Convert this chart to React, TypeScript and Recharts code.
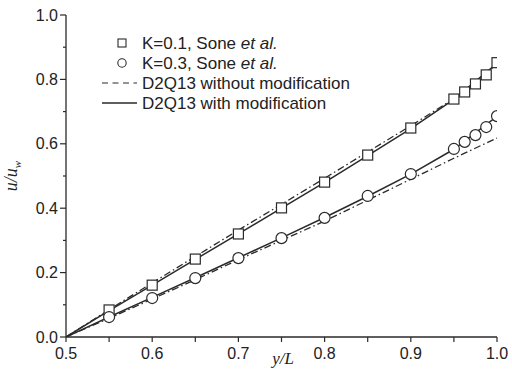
import React from "react";
import { LineChart, Line, XAxis, YAxis } from "recharts";

// ---- data ----
const xTicks = [0.5, 0.55, 0.6, 0.65, 0.7, 0.75, 0.8, 0.85, 0.9, 0.95, 1.0];
const xMajor = [0.5, 0.6, 0.7, 0.8, 0.9, 1.0];
const yTicks = [0, 0.1, 0.2, 0.3, 0.4, 0.5, 0.6, 0.7, 0.8, 0.9, 1.0];
const yMajor = [0, 0.2, 0.4, 0.6, 0.8, 1.0];

const soneK01X = [0.55, 0.6, 0.65, 0.7, 0.75, 0.8, 0.85, 0.9, 0.95, 0.9625, 0.975, 0.9875, 1.0];
const soneK01Y = [0.084, 0.161, 0.242, 0.32, 0.401, 0.481, 0.565, 0.649, 0.739, 0.761, 0.786, 0.814, 0.852];
const soneK03X = [0.55, 0.6, 0.65, 0.7, 0.75, 0.8, 0.85, 0.9, 0.95, 0.9625, 0.975, 0.9875, 1.0];
const soneK03Y = [0.062, 0.121, 0.183, 0.245, 0.307, 0.37, 0.438, 0.506, 0.584, 0.606, 0.627, 0.652, 0.686];

const lineX = [0.5, 0.55, 0.6, 0.65, 0.7, 0.75, 0.8, 0.85, 0.9, 0.95, 1.0];
const withModK01 = [0, 0.082, 0.161, 0.241, 0.32, 0.4, 0.48, 0.563, 0.647, 0.738, 0.85];
const withModK03 = [0, 0.062, 0.123, 0.184, 0.246, 0.308, 0.371, 0.437, 0.506, 0.583, 0.685];
const withoutModK01 = [0, 0.085, 0.168, 0.25, 0.332, 0.412, 0.493, 0.575, 0.656, 0.74, 0.846];
const withoutModK03 = [0, 0.058, 0.118, 0.178, 0.24, 0.3, 0.36, 0.425, 0.49, 0.555, 0.618];

const legendLabels = [
  "K=0.1, Sone ",
  "K=0.3, Sone ",
  "D2Q13 without modification",
  "D2Q13 with modification",
];

const zip = (xs: number[], ys: number[]) => xs.map((x, i) => ({ x, y: ys[i] }));

const AX = "#2a2a2a";
const TXT = "#222";
const SANS = "'Liberation Sans', Arial, sans-serif";
const SERIF = "'Liberation Serif', 'Times New Roman', serif";
const DASH = "7 3 1.5 3";

const isMajor = (v: number, list: number[]) => list.some((m) => Math.abs(m - v) < 1e-6);

const BottomTick = (props: any) => {
  const { x, y, payload } = props;
  const v = payload.value;
  return (
    <g>
      <line x1={x} y1={y} x2={x} y2={y + 5} stroke={AX} strokeWidth={1.2} />
      {isMajor(v, xMajor) && (
        <text x={x} y={y + 22} textAnchor="middle" fontSize={16} fontFamily={SANS} fill={TXT}>
          {v.toFixed(1)}
        </text>
      )}
    </g>
  );
};

const LeftTick = (props: any) => {
  const { x, y, payload } = props;
  const v = payload.value;
  const major = isMajor(v, yMajor);
  return (
    <g>
      <line x1={x} y1={y} x2={x - (major ? 6 : 3)} y2={y} stroke={AX} strokeWidth={1.2} />
      {major && (
        <text x={x - 8} y={y + 5.5} textAnchor="end" fontSize={16} fontFamily={SANS} fill={TXT}>
          {v.toFixed(1)}
        </text>
      )}
    </g>
  );
};

const SquareDot = (props: any) => {
  const { cx, cy } = props;
  if (cx == null || cy == null) return null;
  return <rect x={cx - 5} y={cy - 5} width={10} height={10} fill="#fff" stroke={AX} strokeWidth={1.2} />;
};

const CircleDot = (props: any) => {
  const { cx, cy } = props;
  if (cx == null || cy == null) return null;
  return <circle cx={cx} cy={cy} r={5.5} fill="#fff" stroke={AX} strokeWidth={1.2} />;
};

export default function App() {
  return (
    <div style={{ position: "absolute", left: 0, top: 0, width: 512, height: 372, background: "#fff" }}>
      <LineChart width={512} height={372} margin={{ top: 15, right: 15, bottom: 0, left: 0 }}>
        <XAxis
          xAxisId="b"
          dataKey="x"
          type="number"
          domain={[0.5, 1]}
          ticks={xTicks}
          interval={0}
          height={35}
          tickSize={0}
          tickMargin={0}
          tickLine={false}
          tick={<BottomTick />}
          stroke={AX}
          strokeWidth={1.3}
          allowDataOverflow
          label={{
            content: () => (
              <text x={283} y={364} textAnchor="middle" fontSize={17} fontFamily={SERIF} fontStyle="italic" fill={TXT}>
                y/L
              </text>
            ),
          }}
        />
        <XAxis
          xAxisId="t"
          dataKey="x"
          type="number"
          orientation="top"
          domain={[0.5, 1]}
          ticks={xTicks}
          interval={0}
          height={0}
          mirror
          tick={false}
          tickSize={4}
          stroke={AX}
          strokeWidth={1.3}
        />
        <YAxis
          yAxisId="l"
          dataKey="y"
          type="number"
          domain={[0, 1]}
          ticks={yTicks}
          interval={0}
          width={66}
          tickSize={0}
          tickMargin={0}
          tickLine={false}
          tick={<LeftTick />}
          stroke={AX}
          strokeWidth={1.3}
          allowDataOverflow
          label={{
            content: () => (
              <text transform="rotate(-90 17 176)" x={17} y={176} textAnchor="middle" fontSize={18} fontFamily={SERIF} fontStyle="italic" fill={TXT}>
                <tspan>u/u</tspan>
                <tspan fontSize={11} dy={4}>w</tspan>
              </text>
            ),
          }}
        />
        <YAxis
          yAxisId="r"
          dataKey="y"
          type="number"
          orientation="right"
          domain={[0, 1]}
          ticks={yTicks}
          interval={0}
          width={0}
          mirror
          tick={false}
          tickSize={4}
          stroke={AX}
          strokeWidth={1.3}
        />

        <Line xAxisId="b" yAxisId="l" data={zip(lineX, withoutModK01)} dataKey="y" type="linear" stroke={AX} strokeWidth={1.3} strokeDasharray={DASH} dot={false} isAnimationActive={false} />
        <Line xAxisId="b" yAxisId="l" data={zip(lineX, withoutModK03)} dataKey="y" type="linear" stroke={AX} strokeWidth={1.3} strokeDasharray={DASH} dot={false} isAnimationActive={false} />
        <Line xAxisId="b" yAxisId="l" data={zip(lineX, withModK01)} dataKey="y" type="linear" stroke={AX} strokeWidth={1.5} dot={false} isAnimationActive={false} />
        <Line xAxisId="b" yAxisId="l" data={zip(lineX, withModK03)} dataKey="y" type="linear" stroke={AX} strokeWidth={1.5} dot={false} isAnimationActive={false} />
        <Line xAxisId="b" yAxisId="l" data={zip(soneK01X, soneK01Y)} dataKey="y" stroke="none" dot={<SquareDot />} activeDot={false} isAnimationActive={false} />
        <Line xAxisId="b" yAxisId="l" data={zip(soneK03X, soneK03Y)} dataKey="y" stroke="none" dot={<CircleDot />} activeDot={false} isAnimationActive={false} />
      </LineChart>

      <svg width={512} height={372} style={{ position: "absolute", left: 0, top: 0, pointerEvents: "none" }}>
        <rect x={118} y={39} width={8} height={8} fill="#fff" stroke={AX} strokeWidth={1.1} />
        <text x={142} y={49} fontSize={17} fontFamily={SANS} fill={TXT}>
          {legendLabels[0]}
          <tspan fontStyle="italic">et al.</tspan>
        </text>
        <circle cx={122} cy={63} r={4.2} fill="#fff" stroke={AX} strokeWidth={1.1} />
        <text x={142} y={69} fontSize={17} fontFamily={SANS} fill={TXT}>
          {legendLabels[1]}
          <tspan fontStyle="italic">et al.</tspan>
        </text>
        <line x1={102} y1={83} x2={137} y2={83} stroke={AX} strokeWidth={1.2} strokeDasharray="6 4.5" />
        <text x={142} y={89} fontSize={17} fontFamily={SANS} fill={TXT}>
          {legendLabels[2]}
        </text>
        <line x1={102} y1={103} x2={137} y2={103} stroke={AX} strokeWidth={1.5} />
        <text x={142} y={109} fontSize={17} fontFamily={SANS} fill={TXT}>
          {legendLabels[3]}
        </text>
      </svg>
    </div>
  );
}
